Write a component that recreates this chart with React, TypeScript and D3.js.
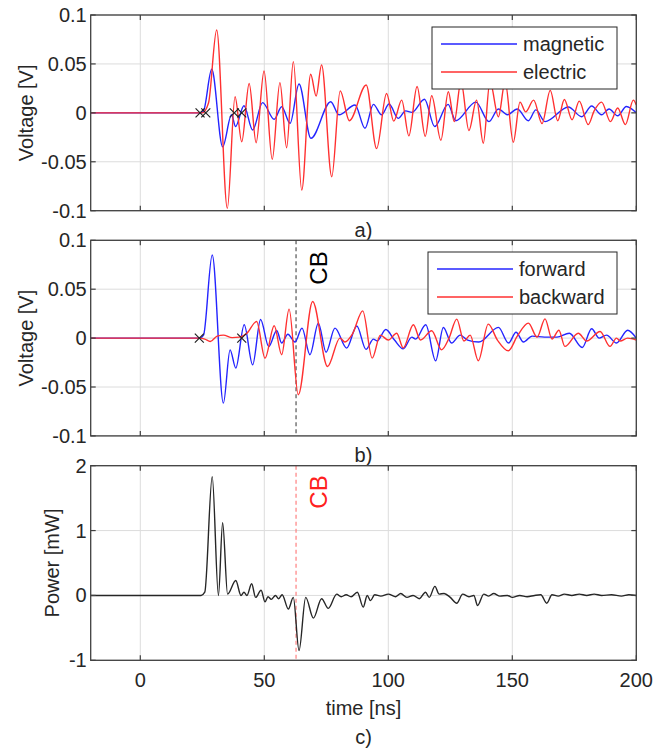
import React from "react";
import * as d3 from "d3";

// ---------- data ----------
const xTicks = [0, 50, 100, 150, 200];
const voltTicks = [-0.1, -0.05, 0, 0.05, 0.1];
const powerTicks = [-1, 0, 1, 2];
const cbTime = 62.8;

const magnetic: [number, number][] = [
  [-20, 0], [24, 0], [25.5, 0.002], [28.8, 0.0445], [33.2, -0.0346], [36.8, -0.002], [38.4, -0.014],
  [41.8, 0.0073], [45.3, -0.0175], [49.3, 0.0104], [54, -0.0066], [57, 0.0063], [60.4, -0.0107],
  [64, 0.0295], [68.8, -0.026], [76.8, 0.0114], [80.1, -0.002], [86.6, 0.008], [90.6, -0.0158],
  [94, 0.0087], [97.3, -0.002], [100.3, 0.009], [104, -0.0056], [107, 0.002], [109.5, 0.0005],
  [114.6, 0.0139], [118.7, -0.014], [124.1, 0.0087], [127.2, -0.008], [135.3, 0.011], [140.6, -0.009],
  [144.4, 0.004], [148, -0.002], [152, 0.004], [156.5, -0.008], [159.5, 0.003], [163.2, -0.009],
  [172.6, 0.006], [178, -0.004], [182, 0.007], [186, -0.002], [189, 0.004], [192.5, -0.003],
  [196, 0.0065], [200, 0],
];

const electric: [number, number][] = [
  [-20, 0], [25, 0], [27.5, 0.01], [30.8, 0.0847], [35.1, -0.0976], [38.2, 0.0165], [40.9, -0.0295],
  [43.9, 0.03], [46.7, -0.0305], [49.9, 0.0428], [53.2, -0.0475], [56.3, 0.0309], [59, -0.0356],
  [61.7, 0.0523], [65.1, -0.0789], [68.7, 0.0394], [70.9, 0.0172], [73.1, 0.049], [77.2, -0.0653],
  [80.6, 0.0225], [84.3, -0.008], [91.1, 0.0285], [95.3, -0.0365], [99.3, 0.0198], [102.2, -0.0085],
  [105.4, 0.013], [108.3, -0.0235], [111.6, 0.027], [114.9, -0.024], [117.5, 0.0175], [121.2, -0.028],
  [124.2, 0.0216], [126.6, -0.009], [129.3, 0.032], [132.5, -0.018], [135.6, 0.013], [138.3, -0.031],
  [141, 0.032], [144.4, -0.004], [147.1, 0.032], [150.4, -0.03], [153.1, 0.011], [155.4, 0.001],
  [158.6, 0.013], [162, -0.011], [165.3, 0.023], [168.3, -0.008], [171, 0.0137], [174.1, -0.007],
  [177, 0.012], [180.6, -0.012], [183, 0.002], [186, 0.011], [189.6, -0.009], [192.5, 0.005],
  [195.6, -0.012], [198.8, 0.013], [200, 0.008],
];

const forward: [number, number][] = [
  [-20, 0], [24, 0], [25.5, 0.003], [29, 0.085], [33.5, -0.0665], [36.2, -0.012], [38.5, -0.0307],
  [41.9, 0.0136], [45.3, -0.0273], [48.5, 0.019], [51.8, -0.0086], [55, 0.0078], [57, -0.005],
  [59.5, 0.004], [62.4, -0.004], [65.2, 0.0102], [68.4, -0.017], [71.8, 0.0153], [74.9, -0.0145],
  [78.5, 0.0102], [83.2, -0.0102], [87.3, 0.0124], [91, -0.0115], [94, -0.001], [95.5, -0.003],
  [99, 0.0088], [102.5, -0.002], [106, -0.011], [109.5, 0.001], [111, -0.001], [115.1, 0.0136],
  [119.1, -0.0232], [122.2, 0.0109], [125.5, -0.005], [129, 0.003], [132, -0.002], [136.5, -0.004],
  [144.4, 0.011], [148.5, -0.005], [151.5, 0.006], [154.5, -0.004], [158, 0.002], [163, 0.001],
  [168, 0.001], [173, 0.005], [178.2, -0.0096], [182, 0.0095], [185, 0], [188, 0.003],
  [192, -0.005], [196.5, 0.008], [200, 0],
];

const backward: [number, number][] = [
  [-20, 0], [24, 0], [26, -0.001], [28.2, -0.0035], [31, 0.002], [33.5, 0.003], [37, 0.0005],
  [40, 0.001], [43, 0.005], [46.9, 0.017], [50.3, -0.0205], [54, 0.0126], [57, -0.017], [60, 0.0296],
  [63.7, -0.058], [69.5, 0.0375], [75.5, -0.029], [80.5, 0], [82.5, -0.004], [85.5, 0.004],
  [89.7, 0.0278], [93.5, -0.0205], [96.8, 0.003], [100, -0.002], [103.4, 0.005], [106, -0.01],
  [110.1, 0.0136], [113, -0.002], [117.5, 0.0075], [121.5, -0.012], [124.5, 0], [127.6, 0.0194],
  [130.5, -0.003], [133, 0.003], [136.3, -0.0232], [140.3, 0.0143], [144, -0.002], [148.4, -0.013],
  [152, 0.002], [156.5, 0.0153], [160, 0.001], [163.2, 0.0197], [166, -0.001], [168.8, 0.008],
  [171.2, -0.0085], [176.6, 0.005], [180, -0.003], [185.4, 0.0068], [189.4, -0.0085], [192, 0],
  [193.5, -0.003], [196.5, 0], [200, -0.002],
];

const power: [number, number][] = [
  [-20, 0], [24.5, 0], [26, 0.05], [29, 1.83], [31.5, 0], [33.2, 1.12], [35.2, 0.02], [38.5, 0.23],
  [40.6, 0], [41.8, 0.05], [43, 0], [44.9, 0.18], [46.5, -0.03], [48.7, 0.08], [50.3, -0.1],
  [51.5, -0.02], [52.8, -0.06], [54.5, 0], [55.8, -0.05], [57.2, 0.01], [59.7, -0.21], [61.7, -0.03],
  [64, -0.85], [66.7, -0.03], [69.8, -0.35], [73.1, -0.05], [75.8, -0.2], [79.2, 0.02], [81, -0.02],
  [83, 0.01], [85, -0.02], [87.5, 0.05], [89.9, -0.18], [91.5, 0], [92.8, -0.08], [94.5, 0.01],
  [97, -0.01], [100, 0.02], [103, -0.02], [105, 0.03], [107.5, -0.03], [110, 0], [112.5, -0.05],
  [115, 0.05], [116.5, -0.03], [118.8, 0.14], [120.5, 0.02], [122.5, 0.03], [125, -0.03],
  [127.6, -0.12], [130, 0.02], [132.5, -0.02], [134.5, 0], [136, -0.155], [138.5, 0.02],
  [140.5, -0.01], [142.5, 0.03], [145, -0.01], [148, 0], [150, -0.03], [153, 0], [156, -0.02],
  [159, 0], [161.5, 0.01], [163.9, -0.12], [166, 0.01], [168.5, -0.01], [171, 0.02], [174, 0],
  [177, 0.02], [180, 0], [183, 0.02], [186, 0], [190, 0.01], [194, -0.01], [197, 0.01], [200, 0],
];

const markersA = [24.1, 26.4, 37.9, 40.9];
const markersB = [23.8, 40.9];

// ---------- layout ----------
const FONT = "'Liberation Sans', Arial, Helvetica, sans-serif";
const TXT = "#262626";
const BLUE = "#2424ff";
const RED = "#ff3030";
const xLeft = 90.7;
const xRight = 636.3;

const x = d3.scaleLinear().domain([-20, 200]).range([xLeft, xRight]);

type PanelProps = {
  id: string;
  top: number;
  bottom: number;
  yDomain: [number, number];
  yTicks: number[];
  yLabel: string;
  children?: React.ReactNode;
  showXLabels?: boolean;
  tag: string;
  tagY: number;
};

const fmt = (v: number) => {
  const s = String(+v.toFixed(3));
  return s;
};

function Panel(p: PanelProps) {
  const y = d3.scaleLinear().domain(p.yDomain).range([p.bottom, p.top]);
  const tl = 5;
  return (
    <g>
      <clipPath id={p.id}>
        <rect x={xLeft} y={p.top} width={xRight - xLeft} height={p.bottom - p.top} />
      </clipPath>
      <rect x={xLeft} y={p.top} width={xRight - xLeft} height={p.bottom - p.top} fill="#fff" />
      {xTicks.map((t) => (
        <line key={"gx" + t} x1={x(t)} x2={x(t)} y1={p.top} y2={p.bottom} stroke="#dcdcdc" strokeWidth={1} />
      ))}
      {p.yTicks.map((t) => (
        <line key={"gy" + t} x1={xLeft} x2={xRight} y1={y(t)} y2={y(t)} stroke="#dcdcdc" strokeWidth={1} />
      ))}
      <g clipPath={`url(#${p.id})`}>{typeof p.children === "function" ? null : null}</g>
      {(p as any).render ? (p as any).render(y) : null}
      {xTicks.map((t) => (
        <g key={"tx" + t}>
          <line x1={x(t)} x2={x(t)} y1={p.bottom} y2={p.bottom - tl} stroke="#404040" strokeWidth={1.2} />
          <line x1={x(t)} x2={x(t)} y1={p.top} y2={p.top + tl} stroke="#404040" strokeWidth={1.2} />
        </g>
      ))}
      {p.yTicks.map((t) => (
        <g key={"ty" + t}>
          <line x1={xLeft} x2={xLeft + tl} y1={y(t)} y2={y(t)} stroke="#404040" strokeWidth={1.2} />
          <line x1={xRight} x2={xRight - tl} y1={y(t)} y2={y(t)} stroke="#404040" strokeWidth={1.2} />
          <text x={xLeft - 4} y={y(t)} textAnchor="end" dominantBaseline="central" fontSize={20} fill={TXT} fontFamily={FONT}>
            {fmt(t)}
          </text>
        </g>
      ))}
      <rect x={xLeft} y={p.top} width={xRight - xLeft} height={p.bottom - p.top} fill="none" stroke="#404040" strokeWidth={1.3} />
      <text
        transform={`translate(${p.yLabel.startsWith("Power") ? 52 : 26},${(p.top + p.bottom) / 2}) rotate(-90)`}
        textAnchor="middle"
        dominantBaseline="central"
        fontSize={20}
        fill={TXT}
        fontFamily={FONT}
      >
        {p.yLabel}
      </text>
      {p.showXLabels &&
        xTicks.map((t) => (
          <text key={"lx" + t} x={x(t)} y={p.bottom + 20} textAnchor="middle" dominantBaseline="central" fontSize={20} fill={TXT} fontFamily={FONT}>
            {t}
          </text>
        ))}
      <text x={(xLeft + xRight) / 2} y={p.tagY} textAnchor="middle" dominantBaseline="central" fontSize={20} fill={TXT} fontFamily={FONT}>
        {p.tag}
      </text>
    </g>
  );
}

function Series({ data, y, color, width = 1.4, clip }: { data: [number, number][]; y: d3.ScaleLinear<number, number>; color: string; width?: number; clip: string }) {
  const line = d3
    .line<[number, number]>()
    .x((d) => x(d[0]))
    .y((d) => y(d[1]))
    .curve(d3.curveMonotoneX);
  return <path d={line(data) || ""} fill="none" stroke={color} strokeWidth={width} clipPath={`url(#${clip})`} strokeLinejoin="round" />;
}

function Markers({ ts, y }: { ts: number[]; y: d3.ScaleLinear<number, number> }) {
  const s = 4.5;
  return (
    <g>
      {ts.map((t, i) => (
        <path
          key={i}
          transform={`translate(${x(t)},${y(0)})`}
          d={`M${-s},${-s}L${s},${s}M${-s},${s}L${s},${-s}`}
          stroke="#222"
          strokeWidth={1.2}
          fill="none"
        />
      ))}
    </g>
  );
}

function Legend({ x0, y0, w, h, items }: { x0: number; y0: number; w: number; h: number; items: { label: string; color: string }[] }) {
  return (
    <g>
      <rect x={x0} y={y0} width={w} height={h} fill="#fff" stroke="#262626" strokeWidth={1} />
      {items.map((it, i) => {
        const ry = y0 + 17 + i * 28;
        return (
          <g key={it.label}>
            <line x1={x0 + 9} x2={x0 + 85} y1={ry} y2={ry} stroke={it.color} strokeWidth={1.4} />
            <text x={x0 + 91} y={ry} dominantBaseline="central" fontSize={20} fill={TXT} fontFamily={FONT}>
              {it.label}
            </text>
          </g>
        );
      })}
    </g>
  );
}

const panelA = { top: 15, bottom: 210.7 };
const panelB = { top: 240.3, bottom: 435.9 };
const panelC = { top: 465.7, bottom: 660.3 };

export default function App() {
  const yA = d3.scaleLinear().domain([-0.1, 0.1]).range([panelA.bottom, panelA.top]);
  const yB = d3.scaleLinear().domain([-0.1, 0.1]).range([panelB.bottom, panelB.top]);
  const yC = d3.scaleLinear().domain([-1, 2]).range([panelC.bottom, panelC.top]);
  return (
    <svg width={670} height={750} style={{ position: "absolute", left: 0, top: 0, background: "#fff" }}>
      <rect width={670} height={750} fill="#fff" />
      {/* Panel a */}
      <Panel id="clipA" {...panelA} yDomain={[-0.1, 0.1]} yTicks={voltTicks} yLabel="Voltage [V]" tag="a)" tagY={230}
        {...({ render: (y: any) => (
          <g>
            <Series data={magnetic} y={y} color={BLUE} clip="clipA" />
            <Series data={electric} y={y} color={RED} clip="clipA" />
            <Markers ts={markersA} y={y} />
          </g>
        ) } as any)}
      />
      <Legend x0={432} y0={27} w={185} h={62} items={[{ label: "magnetic", color: BLUE }, { label: "electric", color: RED }]} />

      {/* Panel b */}
      <Panel id="clipB" {...panelB} yDomain={[-0.1, 0.1]} yTicks={voltTicks} yLabel="Voltage [V]" tag="b)" tagY={455}
        {...({ render: (y: any) => (
          <g>
            <line x1={x(cbTime)} x2={x(cbTime)} y1={panelB.top} y2={panelB.bottom} stroke="#555" strokeWidth={1.2} strokeDasharray="4,3" />
            <Series data={forward} y={y} color={BLUE} clip="clipB" />
            <Series data={backward} y={y} color={RED} clip="clipB" />
            <Markers ts={markersB} y={y} />
            <text transform={`translate(${x(cbTime) + 22},${268}) rotate(-90)`} textAnchor="middle" dominantBaseline="central" fontSize={24} fill="#000" fontFamily={FONT}>CB</text>
          </g>
        ) } as any)}
      />
      <Legend x0={428} y0={252} w={189} h={62} items={[{ label: "forward", color: BLUE }, { label: "backward", color: RED }]} />

      {/* Panel c */}
      <Panel id="clipC" {...panelC} yDomain={[-1, 2]} yTicks={powerTicks} yLabel="Power [mW]" tag="c)" tagY={737} showXLabels
        {...({ render: (y: any) => (
          <g>
            <line x1={x(cbTime)} x2={x(cbTime)} y1={panelC.top} y2={panelC.bottom} stroke="#ff8080" strokeWidth={1.2} strokeDasharray="4,3" />
            <Series data={power} y={y} color="#262626" clip="clipC" />
            <text transform={`translate(${x(cbTime) + 22},${492}) rotate(-90)`} textAnchor="middle" dominantBaseline="central" fontSize={24} fill="#ff2020" fontFamily={FONT}>CB</text>
          </g>
        ) } as any)}
      />
      <text x={(xLeft + xRight) / 2} y={708} textAnchor="middle" dominantBaseline="central" fontSize={20} fill={TXT} fontFamily={FONT}>
        time [ns]
      </text>
    </svg>
  );
}
